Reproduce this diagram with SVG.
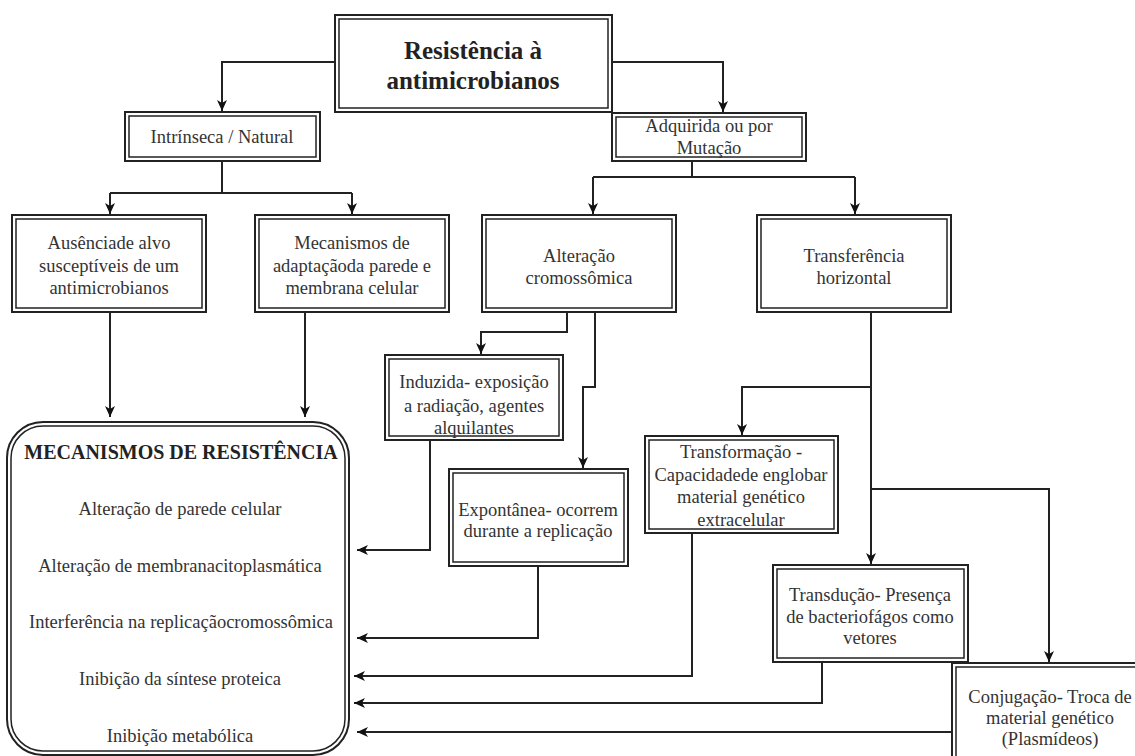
<svg xmlns="http://www.w3.org/2000/svg" width="1135" height="756" viewBox="0 0 1135 756">
<style>
.o{fill:#fff;stroke:#222;stroke-width:2}
.i{fill:none;stroke:#222;stroke-width:1.5}
text{font-family:'Liberation Serif','DejaVu Serif','Times New Roman',serif;font-size:18.5px;fill:#333;text-anchor:middle}
.b{font-weight:bold;fill:#222}
.h{font-size:25px}
.m{font-size:20px}
.c{fill:none;stroke:#222;stroke-width:2}
</style>
<defs>
<marker id="a" markerWidth="12" markerHeight="12" refX="11" refY="6" orient="auto" markerUnits="userSpaceOnUse"><path d="M0,1 L11,6 L0,11 L3,6 Z" fill="#111"/></marker>
</defs>
<rect width="1135" height="756" fill="#fff"/>
<g id="connectors">
<path class="c" d="M335,62 H222 V111" marker-end="url(#a)"/>
<path class="c" d="M612,62 H723 V112" marker-end="url(#a)"/>
<path class="c" d="M222,161 V193 M110,193 H352"/>
<path class="c" d="M110,193 V214" marker-end="url(#a)"/>
<path class="c" d="M352,193 V214" marker-end="url(#a)"/>
<path class="c" d="M692,161 V177 M593,177 H855"/>
<path class="c" d="M593,177 V214" marker-end="url(#a)"/>
<path class="c" d="M855,177 V214" marker-end="url(#a)"/>
<path class="c" d="M110,312 V417" marker-end="url(#a)"/>
<path class="c" d="M305,312 V417" marker-end="url(#a)"/>
<path class="c" d="M567,312 V332 H481 V354" marker-end="url(#a)"/>
<path class="c" d="M595,312 V387 H583 V468" marker-end="url(#a)"/>
<path class="c" d="M430,440 V550 H357" marker-end="url(#a)"/>
<path class="c" d="M538,566 V638 H357" marker-end="url(#a)"/>
<path class="c" d="M871,312 V564" marker-end="url(#a)"/>
<path class="c" d="M871,387 H742 V435" marker-end="url(#a)"/>
<path class="c" d="M871,489 H1049 V662" marker-end="url(#a)"/>
<path class="c" d="M692,533 V676 H354" marker-end="url(#a)"/>
<path class="c" d="M822,662 V703 H354" marker-end="url(#a)"/>
<path class="c" d="M952,732 H357" marker-end="url(#a)"/>
</g>
<g id="root">
<rect class="o" x="335" y="15" width="277" height="97"/>
<rect class="i" x="339" y="19" width="269" height="89"/>
<text class="b h" x="473" y="59">Resistência à</text>
<text class="b h" x="473" y="89">antimicrobianos</text>
</g>
<g id="intrinseca">
<rect class="o" x="125" y="112" width="195" height="49"/>
<rect class="i" x="129" y="116" width="187" height="41"/>
<text x="222" y="143">Intrínseca / Natural</text>
</g>
<g id="adquirida">
<rect class="o" x="612" y="113" width="194" height="48"/>
<rect class="i" x="616" y="117" width="186" height="40"/>
<text x="709" y="132">Adquirida ou por</text>
<text x="709" y="154">Mutação</text>
</g>
<g id="ausencia">
<rect class="o" x="12" y="215" width="194" height="97"/>
<rect class="i" x="16" y="219" width="186" height="89"/>
<text x="109" y="249">Ausênciade alvo</text>
<text x="109" y="272">susceptíveis de um</text>
<text x="109" y="294">antimicrobianos</text>
</g>
<g id="mecanismos">
<rect class="o" x="255" y="215" width="194" height="97"/>
<rect class="i" x="259" y="219" width="186" height="89"/>
<text x="352" y="249">Mecanismos de</text>
<text x="352" y="272">adaptaçãoda parede e</text>
<text x="352" y="294">membrana celular</text>
</g>
<g id="alteracao">
<rect class="o" x="482" y="215" width="194" height="97"/>
<rect class="i" x="486" y="219" width="186" height="89"/>
<text x="579" y="262">Alteração</text>
<text x="579" y="284">cromossômica</text>
</g>
<g id="transferencia">
<rect class="o" x="757" y="215" width="194" height="97"/>
<rect class="i" x="761" y="219" width="186" height="89"/>
<text x="854" y="262">Transferência</text>
<text x="854" y="284">horizontal</text>
</g>
<g id="induzida">
<rect class="o" x="385" y="355" width="178" height="85"/>
<rect class="i" x="389" y="359" width="170" height="77"/>
<text x="474" y="388">Induzida- exposição</text>
<text x="474" y="412">a radiação, agentes</text>
<text x="474" y="434">alquilantes</text>
</g>
<g id="expontanea">
<rect class="o" x="449" y="469" width="179" height="97"/>
<rect class="i" x="453" y="473" width="171" height="89"/>
<text x="538" y="516">Expontânea- ocorrem</text>
<text x="538" y="537">durante a replicação</text>
</g>
<g id="transformacao">
<rect class="o" x="645" y="436" width="193" height="97"/>
<rect class="i" x="649" y="440" width="185" height="89"/>
<text x="741" y="458">Transformação -</text>
<text x="741" y="481">Capacidadede englobar</text>
<text x="741" y="503">material genético</text>
<text x="741" y="526">extracelular</text>
</g>
<g id="transducao">
<rect class="o" x="773" y="565" width="195" height="97"/>
<rect class="i" x="777" y="569" width="187" height="89"/>
<text x="870" y="601">Transdução- Presença</text>
<text x="870" y="623">de bacteriofágos como</text>
<text x="870" y="644">vetores</text>
</g>
<g id="conjugacao">
<rect class="o" x="952" y="663" width="196" height="100"/>
<rect class="i" x="956" y="667" width="188" height="92"/>
<text x="1050" y="703">Conjugação- Troca de</text>
<text x="1050" y="724">material genético</text>
<text x="1050" y="745">(Plasmídeos)</text>
</g>
<g id="mecanismos-resistencia">
<rect class="o" x="7" y="422" width="342" height="333" rx="36"/>
<rect class="i" x="11" y="426" width="334" height="325" rx="32"/>
<text class="b m" x="181" y="459">MECANISMOS DE RESISTÊNCIA</text>
<text x="180" y="515">Alteração de parede celular</text>
<text x="180" y="572">Alteração de membranacitoplasmática</text>
<text x="181" y="628">Interferência na replicaçãocromossômica</text>
<text x="180" y="685">Inibição da síntese proteica</text>
<text x="180" y="742">Inibição metabólica</text>
</g>
</svg>
